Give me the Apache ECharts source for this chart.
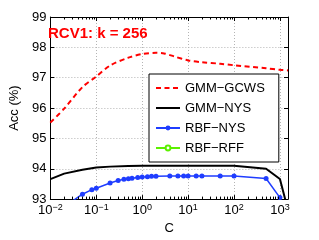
<!DOCTYPE html>
<html><head><meta charset="utf-8">
<script src="https://cdn.jsdelivr.net/npm/echarts@6/dist/echarts.min.js"></script>
<style>html,body{margin:0;padding:0;background:#fff}#c{width:319px;height:240px}</style>
</head><body><div id="c"></div>
<script>
const titleText = 'RCV1: k = 256';
const seriesNames = ['GMM\u2212GCWS', 'GMM\u2212NYS', 'RBF\u2212NYS', 'RBF\u2212RFF'];
const cGCWS = [0.01, 0.02, 0.05, 0.1, 0.2, 0.5, 1, 2, 3, 5, 10, 20, 50, 100, 500, 1000, 1500];
const accGCWS = [95.52, 95.98, 96.69, 97.04, 97.40, 97.66, 97.78, 97.82, 97.80, 97.70, 97.57, 97.51, 97.46, 97.41, 97.31, 97.26, 97.24];
const cGMMNYS = [0.01, 0.02, 0.05, 0.1, 0.2, 0.5, 1, 2, 5, 10, 20, 50, 100, 500, 1000, 1500];
const accGMMNYS = [93.66, 93.84, 93.97, 94.04, 94.07, 94.09, 94.10, 94.10, 94.10, 94.10, 94.10, 94.10, 94.10, 94.00, 93.66, 92.64];
const cRBFNYS = [0.01, 0.02, 0.05, 0.08, 0.1, 0.2, 0.3, 0.4, 0.5, 0.6, 0.8, 1, 1.3, 1.6, 2, 4, 6, 8, 10, 15, 20, 50, 100, 500, 1000];
const accRBFNYS = [92.3, 92.75, 93.16, 93.31, 93.36, 93.53, 93.61, 93.65, 93.67, 93.69, 93.71, 93.73, 93.74, 93.75, 93.75, 93.76, 93.76, 93.76, 93.76, 93.76, 93.76, 93.76, 93.76, 93.68, 93.05];
const cRBFRFF = [];
const accRBFRFF = [];
const xTickExponents = [-2, -1, 0, 1, 2, 3];
const minorTickMultipliers = [2, 3, 4, 5, 6, 7, 8, 9];
const yTicks = [93, 94, 95, 96, 97, 98, 99];

const FONT = '"Liberation Sans", Arial, Helvetica, sans-serif';
const pairs = (xs, ys) => xs.map((x, i) => [x, ys[i]]);
const minorTicks = [];
xTickExponents.forEach(e => minorTickMultipliers.forEach(m => {
  const v = m * Math.pow(10, e);
  if (v <= 1500) minorTicks.push([v, yTicks[0]]);
}));

const chart = echarts.init(document.getElementById('c'), null, {renderer: 'canvas'});
const gridLine = {show: true, lineStyle: {color: '#b4b4b4', type: [1, 2], width: 1}};
const xBase = {
  type: 'log', logBase: 10, min: 0.01, max: 1500, splitNumber: 5,
  axisLine: {show: true, lineStyle: {color: '#000', width: 1}},
  axisTick: {show: true, inside: true, length: 4, lineStyle: {color: '#000'}}
};
const yBase = {
  type: 'value', min: yTicks[0], max: yTicks[yTicks.length - 1], interval: 1,
  axisLine: {show: true, lineStyle: {color: '#000', width: 1}},
  axisTick: {show: true, inside: true, length: 4, lineStyle: {color: '#000'}}
};
chart.setOption({
  animation: false,
  backgroundColor: '#fff',
  textStyle: {fontFamily: FONT},
  title: {
    text: titleText, left: 48, top: 26, padding: 0,
    textStyle: {color: '#ff0000', fontSize: 15, fontWeight: 'bold', fontFamily: FONT}
  },
  grid: {left: 41, right: 31, top: 17, bottom: 40, show: false},
  legend: {
    orient: 'vertical', left: 149, top: 74,
    padding: [7, 14, 7, 6],
    itemWidth: 24, itemHeight: 6, itemGap: 6,
    borderColor: '#000', borderWidth: 1, backgroundColor: '#fff',
    textStyle: {fontSize: 13, color: '#000', fontFamily: FONT, lineHeight: 14},
    data: [
      {name: seriesNames[0], itemStyle: {opacity: 0}},
      {name: seriesNames[1], itemStyle: {opacity: 0}},
      {name: seriesNames[2]},
      {name: seriesNames[3]}
    ]
  },
  xAxis: [
    Object.assign({}, xBase, {
      position: 'bottom',
      name: 'C', nameLocation: 'middle', nameGap: 21,
      nameTextStyle: {fontSize: 13, color: '#000', fontFamily: FONT},
      splitLine: gridLine,
      axisLabel: {
        show: true, margin: 4, showMaxLabel: false, color: '#000',
        formatter: function (v) {
          const lg = Math.log10(v);
          const e = Math.round(lg);
          if (Math.abs(lg - e) > 1e-6 || xTickExponents.indexOf(e) < 0) return '';
          return '{b|10}{s|' + (e < 0 ? '\u2212' + (-e) : String(e)) + '}';
        },
        rich: {
          b: {fontSize: 13, fontFamily: FONT, color: '#000', lineHeight: 14, padding: [5, 0, 0, 0], verticalAlign: 'bottom'},
          s: {fontSize: 9, fontFamily: FONT, color: '#000', lineHeight: 10, verticalAlign: 'top'}
        }
      }
    }),
    Object.assign({}, xBase, {position: 'top', axisLabel: {show: false}, splitLine: {show: false}})
  ],
  yAxis: [
    Object.assign({}, yBase, {
      position: 'left',
      name: 'Acc (%)', nameLocation: 'middle', nameGap: 24, nameRotate: 90,
      nameTextStyle: {fontSize: 13, color: '#000', fontFamily: FONT},
      splitLine: gridLine,
      axisLabel: {show: true, margin: 4, fontSize: 13, color: '#000', fontFamily: FONT}
    }),
    Object.assign({}, yBase, {position: 'right', axisLabel: {show: false}, splitLine: {show: false}})
  ],
  series: [
    {
      name: seriesNames[0], type: 'line', xAxisIndex: 0, yAxisIndex: 0,
      data: pairs(cGCWS, accGCWS), smooth: 0.3, symbol: 'none', clip: true,
      color: '#ff0000', lineStyle: {color: '#ff0000', width: 2, type: [5, 3.5]}, z: 3
    },
    {
      name: seriesNames[1], type: 'line', xAxisIndex: 0, yAxisIndex: 0,
      data: pairs(cGMMNYS, accGMMNYS), smooth: false, symbol: 'none', clip: true,
      color: '#000', lineStyle: {color: '#000', width: 2}, z: 3
    },
    {
      name: seriesNames[2], type: 'line', xAxisIndex: 0, yAxisIndex: 0,
      data: pairs(cRBFNYS, accRBFNYS), smooth: false, symbol: 'circle', symbolSize: 5, clip: true,
      color: '#1f3dff', itemStyle: {color: '#1f3dff'}, lineStyle: {color: '#1f3dff', width: 1.5}, z: 4
    },
    {
      name: seriesNames[3], type: 'line', xAxisIndex: 0, yAxisIndex: 0,
      data: pairs(cRBFRFF, accRBFRFF), smooth: false, symbol: 'emptyCircle', symbolSize: 5, clip: true,
      color: '#5cf000', itemStyle: {color: '#5cf000'}, lineStyle: {color: '#5cf000', width: 1.5}, z: 4
    },
    {
      name: 'minorTicks', type: 'custom', xAxisIndex: 0, yAxisIndex: 0, silent: true, clip: false, z: 5,
      data: minorTicks,
      renderItem: function (params, api) {
        const x = Math.round(api.coord([api.value(0), api.value(1)])[0]) + 0.5;
        const top = params.coordSys.y;
        const bot = params.coordSys.y + params.coordSys.height;
        return {
          type: 'group', children: [
            {type: 'line', shape: {x1: x, y1: bot, x2: x, y2: bot - 2.5}, style: {stroke: '#000', lineWidth: 1}},
            {type: 'line', shape: {x1: x, y1: top, x2: x, y2: top + 2.5}, style: {stroke: '#000', lineWidth: 1}}
          ]
        };
      }
    }
  ]
});
</script></body></html>
